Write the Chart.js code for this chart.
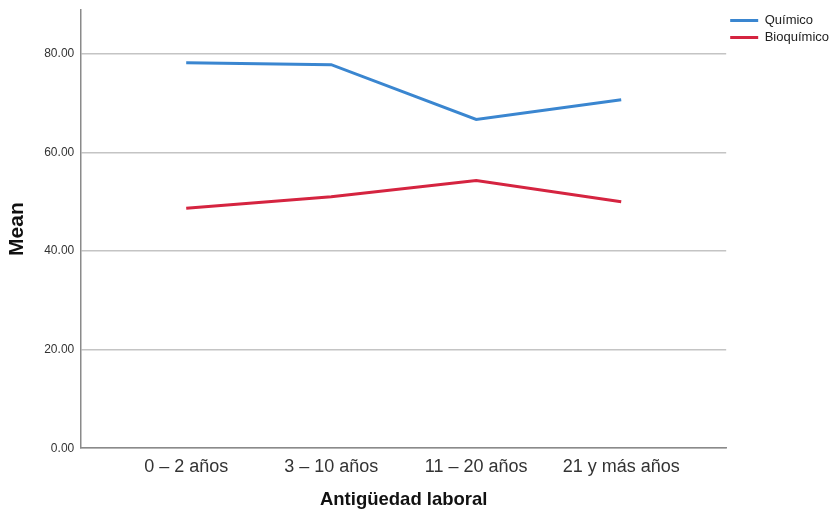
<!DOCTYPE html>
<html>
<head>
<meta charset="utf-8">
<script src="https://cdn.jsdelivr.net/npm/chart.js@4"></script>
<style>
  html, body { margin: 0; padding: 0; background: #fff; }
  #wrap { width: 839px; height: 513px; }
</style>
</head>
<body>
<div id="wrap"><canvas id="meanChart" width="839" height="513"></canvas></div>
<script>
const categories = ['0 – 2 años', '3 – 10 años', '11 – 20 años', '21 y más años'];
const quimico = [78.2, 77.8, 66.7, 70.7];
const bioquimico = [48.7, 51.0, 54.3, 50.0];
const yTicks = [0, 20, 40, 60, 80];

const toPoints = arr => arr.map((v, i) => ({ x: i, y: v }));

const ctx = document.getElementById('meanChart').getContext('2d');

const meanChart = new Chart(ctx, {
    type: 'line',
    data: {
        datasets: [{
            label: 'Químico',
            data: toPoints(quimico),
            borderColor: '#3a86d0',
            backgroundColor: '#3a86d0',
            borderWidth: 3,
            pointRadius: 0,
            tension: 0
        }, {
            label: 'Bioquímico',
            data: toPoints(bioquimico),
            borderColor: '#d52440',
            backgroundColor: '#d52440',
            borderWidth: 3,
            pointRadius: 0,
            tension: 0
        }]
    },
    options: {
        responsive: false,
        animation: false,
        layout: { padding: { left: 0, top: 10, right: 0, bottom: 2 } },
        plugins: {
            legend: {
                position: 'right',
                align: 'start',
                labels: {
                    boxWidth: 28,
                    boxHeight: 3,
                    padding: 4,
                    color: '#222',
                    font: { family: 'Liberation Sans', size: 13 },
                    // thin line swatch, no stroke round it
                    generateLabels: chart => Chart.defaults.plugins.legend.labels.generateLabels(chart)
                        .map(l => ({ ...l, lineWidth: 0 }))
                }
            },
            tooltip: { enabled: false }
        },
        scales: {
            x: {
                type: 'linear',
                min: -0.724,
                max: 3.724,
                afterBuildTicks: s => { s.ticks = categories.map((c, i) => ({ value: i })); },
                ticks: {
                    callback: v => categories[v],
                    color: '#333',
                    padding: 8,
                    font: { family: 'Liberation Sans', size: 18 }
                },
                grid: { display: false, drawTicks: false },
                border: { color: '#8a8a8a', width: 1.5 },
                title: {
                    display: true,
                    text: 'Antigüedad laboral',
                    color: '#111',
                    padding: { top: 3, bottom: 0 },
                    font: { family: 'Liberation Sans', size: 18.5, weight: 'bold' }
                }
            },
            y: {
                min: 0,
                max: 88.9,
                afterBuildTicks: s => { s.ticks = yTicks.map(v => ({ value: v })); },
                afterFit: s => { s.paddingTop = 0; },
                ticks: {
                    callback: v => v.toFixed(2),
                    color: '#333',
                    padding: 7,
                    font: { family: 'Liberation Sans', size: 12 }
                },
                grid: { color: '#c4c4c4', lineWidth: 1.5, drawTicks: false },
                border: { color: '#8a8a8a', width: 1.5 },
                title: {
                    display: true,
                    text: 'Mean',
                    color: '#111',
                    padding: { top: 5, bottom: 7 },
                    font: { family: 'Liberation Sans', size: 21, weight: 'bold' }
                }
            }
        }
    }
});
</script>
</body>
</html>
